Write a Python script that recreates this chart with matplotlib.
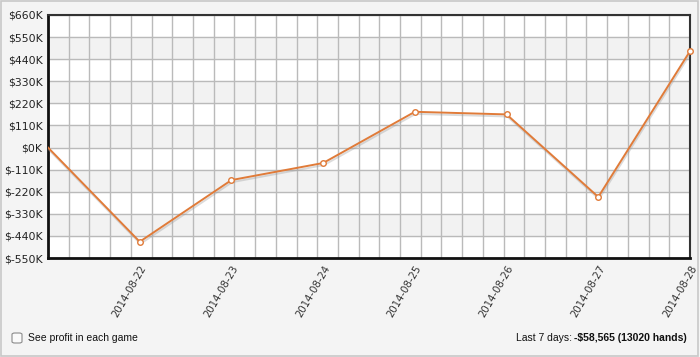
import matplotlib.pyplot as plt
import matplotlib.patheffects as pe
from matplotlib.patches import Rectangle, FancyBboxPatch
import numpy as np

# profit per day, in thousands of dollars
dates = ['2014-08-21', '2014-08-22', '2014-08-23', '2014-08-24',
         '2014-08-25', '2014-08-26', '2014-08-27', '2014-08-28']
profit_k = [0, -469, -162, -77, 178, 165, -246, 480]
y_ticks = [-550, -440, -330, -220, -110, 0, 110, 220, 330, 440, 550, 660]

fig = plt.figure(figsize=(7, 3.57), dpi=100)
fig.patch.set_facecolor('#f4f4f4')
fig.patches.append(Rectangle((0.002, 0.004), 0.995, 0.992, transform=fig.transFigure,
                             fill=False, edgecolor='#c8c8c8', linewidth=1.2))

ax = fig.add_axes([48/700, 1 - 258/357, 642/700, 243/357])
ax.set_facecolor('white')
x = np.arange(len(dates))
ax.set_xlim(0, len(dates) - 1)
ax.set_ylim(-550, 660)

# alternating bands
for i in range(len(y_ticks) - 1):
    if (len(y_ticks) - 2 - i) % 2 == 1:
        ax.axhspan(y_ticks[i], y_ticks[i + 1], color='#f2f2f2', zorder=0)

for yv in y_ticks:
    ax.axhline(yv, color='#bababa', linewidth=1, zorder=1)
for xv in np.linspace(0, len(dates) - 1, 32):
    ax.axvline(xv, color='#bababa', linewidth=1, zorder=1)

ax.plot(x, profit_k, color='#e07b39', linewidth=1.4, zorder=3,
        path_effects=[pe.SimpleLineShadow(offset=(0.5, -1.5), shadow_color='#999999', alpha=0.35),
                      pe.Normal()])
ax.plot(x[1:], profit_k[1:], linestyle='none', marker='o', markersize=4,
        markerfacecolor='white', markeredgecolor='#e07b39', markeredgewidth=1, zorder=4,
        clip_on=False)

ax.set_yticks(y_ticks)
ax.set_yticklabels([('$%dK' % v) if v >= 0 else ('$-%dK' % -v) for v in y_ticks],
                   fontsize=7.8, color='#222222')
ax.set_xticks(x[1:])
ax.set_xticklabels(dates[1:], rotation=60, ha='right', rotation_mode='anchor',
                   fontsize=7.3, color='#333333')
ax.tick_params(length=0, pad=4)

for side in ['left', 'bottom']:
    ax.spines[side].set_linewidth(2)
    ax.spines[side].set_color('#111111')
for side in ['top', 'right']:
    ax.spines[side].set_linewidth(1.5)
    ax.spines[side].set_color('#333333')

# footer
fig.patches.append(FancyBboxPatch((12/700, 1 - 343/357), 10/700, 10/357,
                                  boxstyle='round,pad=0,rounding_size=0.004',
                                  transform=fig.transFigure, facecolor='#fafafa',
                                  edgecolor='#8a8a8a', linewidth=0.8))
fig.text(28/700, 1 - 338/357, 'See profit in each game', fontsize=7.5,
         family='Liberation Sans', va='center', color='#111111')
t = fig.text(687/700, 1 - 338/357, '-$58,565 (13020 hands)', fontsize=7.5,
             family='Liberation Sans', fontweight='bold', va='center', ha='right', color='#111111')
fig.canvas.draw()
bb = t.get_window_extent()
fig.text(bb.x0 / 700 - 2/700, 1 - 338/357, 'Last 7 days:', fontsize=7.5,
         family='Liberation Sans', va='center', ha='right', color='#111111')

fig.savefig('out.png', dpi=100, facecolor=fig.get_facecolor())
